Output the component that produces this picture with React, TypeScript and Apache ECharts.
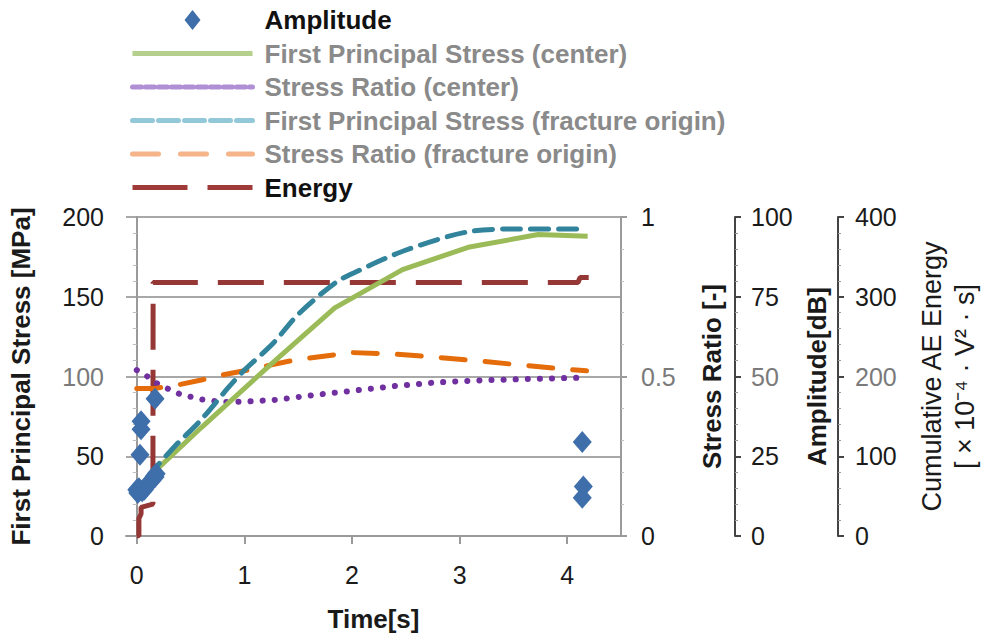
import React, { useEffect, useRef } from "react";
import * as echarts from "echarts";

// ---- data ----
const centerStressTime = [0.08, 0.6, 1.22, 1.84, 2.47, 3.08, 3.73, 4.19];
const centerStressMPa = [35, 68, 106, 143, 167, 181, 189, 188];

const fractureStressTime = [0.1, 0.35, 0.6, 0.85, 1.0, 1.27, 1.5, 1.85, 2.05, 2.49, 3.06, 3.5, 4.09];
const fractureStressMPa = [37, 56, 73, 93, 104, 121, 139, 159, 166, 179, 190.5, 192.5, 192.5];

const centerRatioTime = [0.0, 0.1, 0.2, 0.4, 0.6, 0.8, 1.0, 1.3, 1.6, 2.0, 2.4, 2.8, 3.2, 3.6, 4.1];
const centerRatio = [0.52, 0.5, 0.475, 0.445, 0.428, 0.42, 0.421, 0.427, 0.44, 0.455, 0.47, 0.482, 0.488, 0.492, 0.496];

const fractureRatioTime = [0, 0.16, 0.4, 0.6, 0.8, 1.0, 1.2, 1.4, 1.6, 2.0, 2.4, 2.8, 3.2, 3.6, 4.0, 4.18];
const fractureRatio = [0.462, 0.462, 0.475, 0.489, 0.505, 0.518, 0.533, 0.547, 0.558, 0.575, 0.57, 0.56, 0.548, 0.535, 0.522, 0.518];

const energyTime = [0.0, 0.02, 0.02, 0.04, 0.04, 0.15, 0.152, 4.1, 4.12, 4.2];
const energyValue = [0, 0, 22, 28, 36, 40, 318, 318, 324, 324];

const ampTime = [0.0, 0.01, 0.02, 0.03, 0.04, 0.04, 0.05, 0.07, 0.09, 0.11, 0.14, 0.17, 0.18, 0.17, 4.14, 4.15, 4.14];
const ampDb = [14.5, 13.5, 15, 25.5, 33.5, 36, 14, 14.5, 15.5, 16.5, 17.5, 18.5, 19.5, 43, 29.5, 15.5, 12];

const xTicks = [0, 1, 2, 3, 4];

const seriesNames = [
  "Amplitude",
  "First Principal Stress (center)",
  "Stress Ratio (center)",
  "First Principal Stress (fracture origin)",
  "Stress Ratio (fracture origin)",
  "Energy",
];

const zip = (a: number[], b: number[]) => a.map((v, i) => [v, b[i]]);

const FONT = "Liberation Sans";
const AXIS_GRAY = "#9a9a9a";

export default function App() {
  const ref = useRef<HTMLDivElement>(null);

  useEffect(() => {
    if (!ref.current) return;
    const chart = echarts.init(ref.current, null, { renderer: "svg" });

    const labelStyle = { fontFamily: FONT, fontSize: 25, color: "#1a1a1a" };
    const grayRich = { g: { fontFamily: FONT, fontSize: 25, color: "#7a7a7a" } };
    const nameStyle = { fontFamily: FONT, fontSize: 26, fontWeight: "bold" as const, color: "#1a1a1a" };
    const hiddenSymbol = { opacity: 0 };

    const option: any = {
      animation: false,
      backgroundColor: "#ffffff",
      grid: { left: 122, right: 356, top: 217, bottom: 101 },
      legend: {
        orient: "vertical",
        left: 125,
        top: 2,
        itemWidth: 120,
        itemHeight: 20,
        itemGap: 7.5,
        selectedMode: false,
        textStyle: {
          fontFamily: FONT,
          fontSize: 26,
          fontWeight: "bold",
          lineHeight: 26,
          padding: [0, 0, 0, 7],
        },
        data: [
          {
            name: seriesNames[0],
            icon: "path://M0,10L0.05,10L0,10.05Z M60,0L68,10L60,20L52,10Z M120,10L119.95,10L120,10.05Z",
            itemStyle: { color: "#3F6FAA", opacity: 1 },
            textStyle: { color: "#111111" },
          },
          {
            name: seriesNames[1],
            itemStyle: hiddenSymbol,
            lineStyle: { color: "#B5CF8C", width: 5, type: "solid" },
            textStyle: { color: "#8a8a8a" },
          },
          {
            name: seriesNames[2],
            itemStyle: hiddenSymbol,
            lineStyle: { color: "#B08FD4", width: 5, type: [9, 4] },
            textStyle: { color: "#8a8a8a" },
          },
          {
            name: seriesNames[3],
            itemStyle: hiddenSymbol,
            lineStyle: { color: "#93C8D8", width: 5, type: [20, 6] },
            textStyle: { color: "#8a8a8a" },
          },
          {
            name: seriesNames[4],
            itemStyle: hiddenSymbol,
            lineStyle: { color: "#F6B48A", width: 5, type: [26, 22] },
            textStyle: { color: "#8a8a8a" },
          },
          {
            name: seriesNames[5],
            itemStyle: hiddenSymbol,
            lineStyle: { color: "#9E3B38", width: 5, type: [55, 20] },
            textStyle: { color: "#111111" },
          },
        ],
      },
      xAxis: {
        type: "value",
        min: -0.1,
        max: 4.5,
        name: "Time[s]",
        nameLocation: "middle",
        nameGap: 70,
        nameTextStyle: nameStyle,
        axisLine: { show: true, lineStyle: { color: AXIS_GRAY, width: 2 } },
        axisTick: { show: true, customValues: xTicks, length: 8, lineStyle: { color: AXIS_GRAY, width: 2 } },
        axisLabel: { customValues: xTicks, margin: 26, ...labelStyle },
        splitLine: { show: false },
      },
      yAxis: [
        {
          type: "value",
          min: 0,
          max: 200,
          interval: 50,
          name: "First Principal Stress [MPa]",
          nameLocation: "middle",
          nameRotate: 90,
          nameGap: 92,
          nameTextStyle: nameStyle,
          axisLine: { show: true, onZero: true, lineStyle: { color: AXIS_GRAY, width: 2 } },
          axisTick: { show: false },
          minorTick: { show: true, splitNumber: 5, length: 4, lineStyle: { color: "#c0c0c0" } },
          axisLabel: {
            margin: 22,
            ...labelStyle,
            formatter: (v: number) => (v === 100 ? "{g|100}" : String(v)),
            rich: grayRich,
          },
          splitLine: { show: true, lineStyle: { color: "#a8a8a8", width: 2 } },
        },
        {
          type: "value",
          position: "right",
          offset: 0,
          min: 0,
          max: 1,
          interval: 0.5,
          name: "Stress Ratio [-]",
          nameLocation: "middle",
          nameRotate: 90,
          nameGap: 78,
          nameTextStyle: nameStyle,
          axisLine: { show: true, onZero: false, lineStyle: { color: AXIS_GRAY, width: 2 } },
          axisTick: { show: true, length: 6, lineStyle: { color: AXIS_GRAY, width: 2 } },
          minorTick: { show: true, splitNumber: 5, length: 3, lineStyle: { color: "#c0c0c0" } },
          axisLabel: {
            margin: 20,
            ...labelStyle,
            formatter: (v: number) => (v === 0.5 ? "{g|0.5}" : String(v)),
            rich: grayRich,
          },
          splitLine: { show: false },
        },
        {
          type: "value",
          position: "right",
          offset: 114,
          min: 0,
          max: 100,
          interval: 25,
          name: "Amplitude[dB]",
          nameLocation: "middle",
          nameRotate: 90,
          nameGap: 66,
          nameTextStyle: nameStyle,
          axisLine: { show: true, onZero: false, lineStyle: { color: "#444444", width: 2 } },
          axisTick: { show: true, length: 6, lineStyle: { color: "#444444", width: 2 } },
          minorTick: { show: true, splitNumber: 5, length: 3, lineStyle: { color: "#999999" } },
          axisLabel: {
            margin: 16,
            ...labelStyle,
            formatter: (v: number) => (v === 50 ? "{g|50}" : String(v)),
            rich: grayRich,
          },
          splitLine: { show: false },
        },
        {
          type: "value",
          position: "right",
          offset: 217,
          min: 0,
          max: 400,
          interval: 100,
          name: "Cumulative AE Energy\n[ × 10⁻⁴ · V² · s]",
          nameLocation: "middle",
          nameRotate: 90,
          nameGap: 77,
          nameTextStyle: { fontFamily: FONT, fontSize: 27, color: "#1a1a1a", lineHeight: 33 },
          axisLine: { show: true, onZero: false, lineStyle: { color: "#444444", width: 2 } },
          axisTick: { show: true, length: 6, lineStyle: { color: "#444444", width: 2 } },
          minorTick: { show: true, splitNumber: 5, length: 3, lineStyle: { color: "#999999" } },
          axisLabel: {
            margin: 17,
            ...labelStyle,
            formatter: (v: number) => (v === 200 ? "{g|200}" : String(v)),
            rich: grayRich,
          },
          splitLine: { show: false },
        },
      ],
      series: [
        {
          name: seriesNames[5],
          type: "line",
          yAxisIndex: 3,
          symbol: "none",
          data: zip(energyTime, energyValue),
          lineStyle: { color: "#953735", width: 5, type: [46, 20] },
          itemStyle: { color: "#953735" },
          z: 2,
        },
        {
          name: seriesNames[2],
          type: "line",
          yAxisIndex: 1,
          symbol: "none",
          data: zip(centerRatioTime, centerRatio),
          lineStyle: { color: "#7030A0", width: 6, type: [0.1, 12], cap: "round" },
          itemStyle: { color: "#7030A0" },
          z: 3,
        },
        {
          name: seriesNames[4],
          type: "line",
          yAxisIndex: 1,
          symbol: "none",
          data: zip(fractureRatioTime, fractureRatio),
          lineStyle: { color: "#E46C0A", width: 5, type: [24, 20], cap: "round" },
          itemStyle: { color: "#E46C0A" },
          z: 3,
        },
        {
          name: seriesNames[1],
          type: "line",
          yAxisIndex: 0,
          symbol: "none",
          data: zip(centerStressTime, centerStressMPa),
          lineStyle: { color: "#9BBB59", width: 5 },
          itemStyle: { color: "#9BBB59" },
          z: 4,
        },
        {
          name: seriesNames[3],
          type: "line",
          yAxisIndex: 0,
          symbol: "none",
          smooth: 0.3,
          data: zip(fractureStressTime, fractureStressMPa),
          lineStyle: { color: "#31849B", width: 5, type: [18, 10], cap: "round" },
          itemStyle: { color: "#31849B" },
          z: 4,
        },
        {
          name: seriesNames[0],
          type: "scatter",
          yAxisIndex: 2,
          symbol: "diamond",
          symbolSize: [19, 22],
          data: zip(ampTime, ampDb),
          itemStyle: { color: "#3F6FAA", opacity: 1 },
          z: 5,
        },
      ],
    };

    chart.setOption(option);
    return () => chart.dispose();
  }, []);

  return (
    <div
      ref={ref}
      style={{ position: "absolute", left: 0, top: 0, width: 989, height: 637 }}
    />
  );
}
